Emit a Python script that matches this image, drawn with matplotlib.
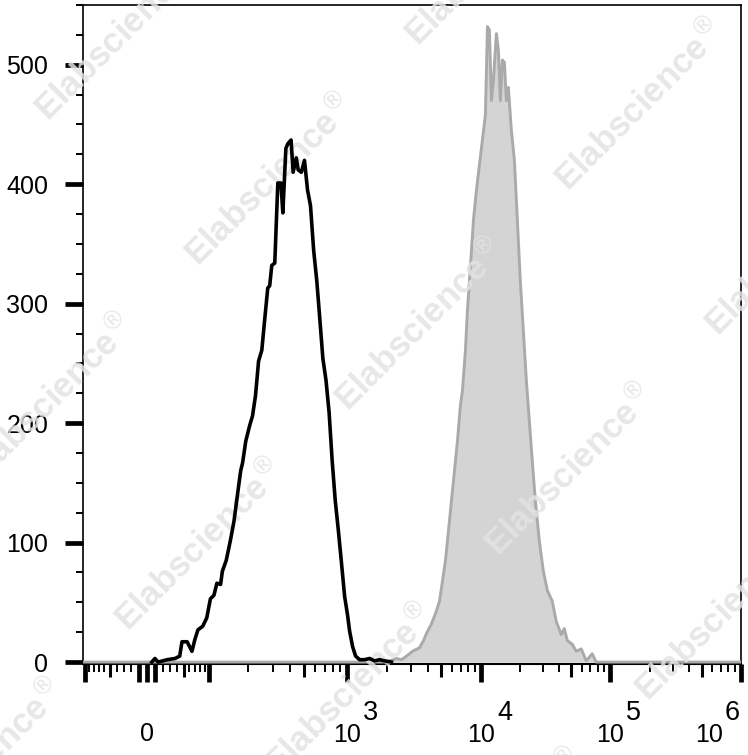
import numpy as np
import matplotlib
matplotlib.use("Agg")
import matplotlib.pyplot as plt
from matplotlib.ticker import FixedLocator, NullFormatter

# histogram data: fluorescence intensity vs event count
black_x = [6, 10, 14, 26, 37, 44, 47.5, 56, 64.5, 70, 76, 86, 95,
           103, 110, 116, 124, 128, 137, 147, 157, 168, 176, 182, 192, 205, 215,
           226, 238, 251, 263, 277, 286, 296, 311, 327, 344, 355, 373, 386, 406,
           420, 442, 456, 480, 505, 531, 557, 586, 617, 649, 681, 716, 753, 792,
           832, 875, 920, 968, 1017, 1052, 1107, 1166, 1248, 1360, 1480, 1611,
           1754, 1911, 2153]
black_y = [0, 3, 0, 2, 3, 5, 17, 17, 9, 19, 27, 30, 37,
           53, 56, 66, 65, 76, 85, 101, 118, 143, 160, 167, 185, 198, 206,
           223, 252, 261, 286, 313, 315, 332, 334, 401, 401, 376, 430, 434, 437,
           410, 422, 412, 410, 420, 395, 382, 345, 319, 286, 254, 236, 209, 168,
           135, 110, 83, 55, 39, 26, 13, 5, 2, 2, 3, 1,
           2, 1, 0]

gray_x = [-104, 1848, 2084, 2344, 2553, 2782, 3083, 3475, 3719, 3915, 4264,
          4645, 4890, 5145, 5412, 5697, 5995, 6310, 6640, 6987, 7229, 7610,
          7870, 8297, 8730, 9184, 9664, 10180, 10740, 11140, 11530, 11960,
          12390, 13070, 13550, 14030, 14550, 15080, 15630, 16190, 17090, 18030,
          19010, 20050, 21170, 22330, 23550, 24840, 26240, 28180, 30270, 32510,
          35480, 38110, 41690, 43950, 46450, 50720, 54450, 59560, 65160, 68710,
          72440, 77800, 1e6]
gray_y = [0, 0, 1, 3, 2, 5, 9, 12, 18, 24, 32,
          43, 51, 68, 85, 110, 135, 160, 185, 215, 227, 261,
          294, 332, 370, 395, 416, 437, 458, 532, 529, 470,
          487, 526, 512, 470, 504, 502, 470, 481, 445, 420,
          370, 319, 277, 236, 202, 168, 135, 101, 76, 60,
          51, 34, 23, 28, 18, 15, 9, 11, 1, 4,
          7, 0, 0]

y_major = [0, 100, 200, 300, 400, 500]
x_long = [-100, -10, 0, 10, 100, 1e3, 1e4, 1e5, 1e6]
x_mid = [-50, 50, 500, 5e3, 5e4, 5e5]
decades = [3, 4, 5, 6]

# biexponential-style display axis
C = 60.0
H_KNOTS = np.arcsinh(np.array([-1e4, -100, 0, 100, 1e3, 1e4, 1e5, 1e6, 1e8]) / C)
P_KNOTS = np.array([-190, 85, 147, 209, 347, 482, 611, 742, 1004], dtype=float)


def fwd(x):
    return np.interp(np.arcsinh(np.asarray(x, dtype=float) / C), H_KNOTS, P_KNOTS)


def inv(p):
    return C * np.sinh(np.interp(np.asarray(p, dtype=float), P_KNOTS, H_KNOTS))


x_minor = [s * v for s in (-1, 1) for v in (20, 30, 40, 60, 70, 80, 90)]
x_minor += [m * 10 ** k for k in range(2, 6) for m in (2, 3, 4, 6, 7, 8, 9)]

plt.rcParams['font.family'] = ['Liberation Sans', 'DejaVu Sans']

W, H = 748, 755
fig = plt.figure(figsize=(W / 100, H / 100), dpi=100)
rect = [83 / W, 1 - 663.5 / H, 658 / W, 658.5 / H]
ax = fig.add_axes(rect)
ax.set_xscale('function', functions=(fwd, inv))
ax.set_xlim(-104, 1e6)
ax.set_ylim(-1.2, 550)

ax.fill_between(gray_x, gray_y, 0, color='#d4d4d4', lw=0, zorder=2)
ax.plot(gray_x, gray_y, color='#aaaaaa', lw=2.1, zorder=3)
ax.plot(black_x, black_y, color='black', lw=2.6, zorder=4)

# ticks
ax.xaxis.set_major_locator(FixedLocator(x_long))
ax.xaxis.set_minor_locator(FixedLocator(x_minor))
ax.xaxis.set_major_formatter(NullFormatter())
ax.xaxis.set_minor_formatter(NullFormatter())
ax.set_yticks(y_major)
ax.yaxis.set_minor_locator(FixedLocator([v for v in range(25, 551, 25) if v % 100]))
ax.tick_params(axis='x', which='major', length=13, width=3.4)
ax.tick_params(axis='x', which='minor', length=5.8, width=1.4)
ax.tick_params(axis='y', which='major', length=13, width=3.4, labelsize=18, pad=12)
ax.tick_params(axis='y', which='minor', length=5.3, width=1.4)
for s in ['left', 'top', 'right']:
    ax.spines[s].set_linewidth(1.2)
ax.spines['bottom'].set_linewidth(1.5)

# medium ticks on an overlay axes
ax2 = fig.add_axes(rect)
ax2.set_xscale('function', functions=(fwd, inv))
ax2.set_xlim(ax.get_xlim())
ax2.patch.set_visible(False)
for s in ax2.spines.values():
    s.set_visible(False)
ax2.set_yticks([])
ax2.xaxis.set_major_locator(FixedLocator(x_mid))
ax2.xaxis.set_minor_locator(FixedLocator([]))
ax2.xaxis.set_major_formatter(NullFormatter())
ax2.tick_params(axis='x', which='major', length=9.4, width=2.2)

# x labels
ax.annotate('0', xy=(0, 0), xycoords=('data', 'axes fraction'), xytext=(0, -55.5),
            textcoords='offset points', ha='center', va='baseline', fontsize=18)
for d in decades:
    shift = -23 if d == 6 else 0
    ax.annotate('10', xy=(10.0 ** d, 0), xycoords=('data', 'axes fraction'),
                xytext=(shift, -56.5), textcoords='offset points',
                ha='center', va='baseline', fontsize=18, annotation_clip=False)
    ax.annotate(str(d), xy=(10.0 ** d, 0), xycoords=('data', 'axes fraction'),
                xytext=(shift + 11.5, -40.7), textcoords='offset points',
                ha='left', va='baseline', fontsize=19.5, annotation_clip=False)

# watermark
for i in range(-2, 3):
    for j in range(-2, 5):
        cx = 270 + 370 * i + 150 * j
        cy = 180 - 75 * i + 145 * j
        if -150 < cx < W + 150 and -150 < cy < H + 150:
            ax.text(cx / W, 1 - cy / H, r'Elabscience$^{\circledR}$', transform=fig.transFigure,
                    rotation=45, rotation_mode='anchor', ha='center', va='center',
                    fontsize=25, fontweight='bold', color='#e3e3e3', alpha=0.85,
                    zorder=3.5, clip_on=False)

fig.savefig('out.png', dpi=100)
